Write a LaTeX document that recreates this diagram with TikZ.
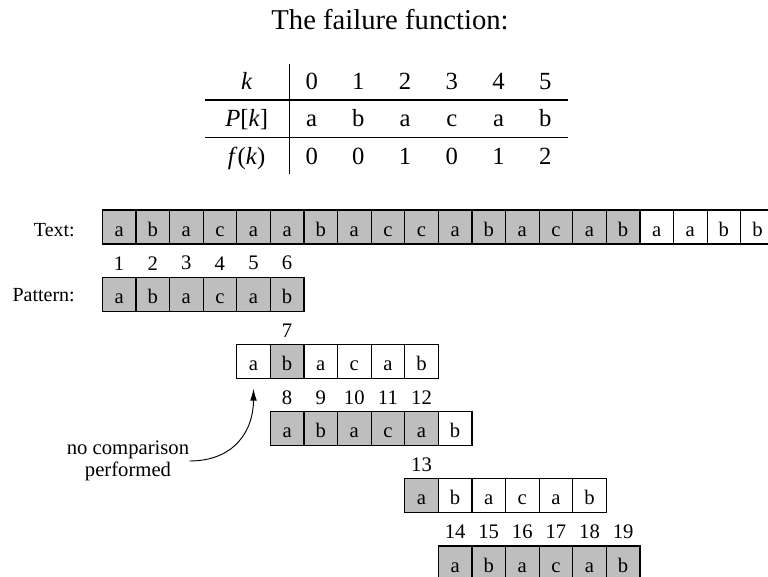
\documentclass[tikz,border=0pt]{standalone}
\usepackage{fontspec}
\setmainfont{Liberation Serif}
\usetikzlibrary{arrows.meta}
\definecolor{cellgray}{RGB}{190,190,190}
\tikzset{
  cell/.style={draw, line width=0.9pt, minimum width=25.2pt, minimum height=25.5pt,
    inner sep=0pt, text height=13.5pt, text depth=0pt, font=\fontsize{15.5}{18}\selectfont},
  hit/.style={cell, fill=cellgray},
  idx/.style={inner sep=0pt, font=\fontsize{15.5}{18}\selectfont},
  lbl/.style={inner sep=0pt, font=\fontsize{15}{18}\selectfont},
  tab/.style={inner sep=0pt, font=\fontsize{18.5}{22}\selectfont},
  rule/.style={line width=1.1pt},
  note/.style={inner sep=0pt, align=center, font=\fontsize{15.5}{16.5}\selectfont},
  pointer/.style={line width=0.7pt, -{Latex[length=9pt,width=5pt]}}
}
\begin{document}
\begin{tikzpicture}[x=0.75pt,y=-0.75pt]
\useasboundingbox (0,0) rectangle (768,576);
\clip (0,0) rectangle (768,576);

% title
\node[inner sep=0pt, anchor=base, font=\fontsize{21.5}{24}\selectfont] (title) at (390,29.3) {The failure function:};

% table
\node[tab, anchor=base] (hk) at (246.7,89.3) {\textit{k}};
\node[tab, anchor=base] (hP) at (246.7,126) {\textit{P}[\textit{k}]};
\node[tab, anchor=base] (hf) at (246.7,164) {\textit{f}(\textit{k})};
\foreach \kk/\pp/\ff [count=\j from 0] in {0/a/0,1/b/0,2/a/1,3/c/0,4/a/1,5/b/2} {
  \pgfmathsetmacro\tx{311.7+46.7*\j}
  \node[tab, anchor=base] (k\j) at (\tx,89.3) {\kk};
  \node[tab, anchor=base] (p\j) at (\tx,126) {\pp};
  \node[tab, anchor=base] (f\j) at (\tx,164) {\ff};
}
\draw[rule] (289.3,64) -- (289.3,174);
\draw[rule] (205,100) -- (568,100);
\draw[rule] (205,137.3) -- (568,137.3);

% labels
\node[lbl, anchor=base east] (textlbl) at (75,236) {Text:};
\node[lbl, anchor=base east] (patlbl) at (75,301.7) {Pattern:};

% text row
\foreach \ch [count=\j from 0] in {a,b,a,c,a,a,b,a,c,c,a,b,a,c,a,b,a,a,b,b} {
  \pgfmathsetmacro\cx{119.1+33.6*\j}
  \ifnum\j<16 \def\st{hit}\else\def\st{cell}\fi
  \node[\st] (T\j) at (\cx,227) {\ch};
}

% pattern rows
\foreach \r/\s/\ga/\gb/\n in {1/0/0/5/1, 2/4/1/1/7, 3/5/0/4/8, 4/9/0/0/13, 5/10/0/5/14} {
  \foreach \ch [count=\c from 0] in {a,b,a,c,a,b} {
    \pgfmathsetmacro\cx{119.1+33.6*(\s+\c)}
    \pgfmathsetmacro\cy{227+67.2*\r}
    \pgfmathtruncatemacro\g{and(\c>=\ga,\c<=\gb)}
    \ifnum\g=1
      \node[hit] (R\r-\c) at (\cx,\cy) {\ch};
      \pgfmathtruncatemacro\num{\n+\c-\ga}
      \pgfmathsetmacro\ny{\cy-31}
      \node[idx] (N\r-\c) at (\cx,\ny) {\num};
    \else
      \node[cell] (R\r-\c) at (\cx,\cy) {\ch};
    \fi
  }
}

% annotation
\node[note] (nc) at (128,461) {no comparison\\performed};
\draw[pointer] (nc.east) .. controls (235,461) and (253.5,430) .. ([yshift=-7.2pt]R2-0.south);
\end{tikzpicture}
\end{document}
